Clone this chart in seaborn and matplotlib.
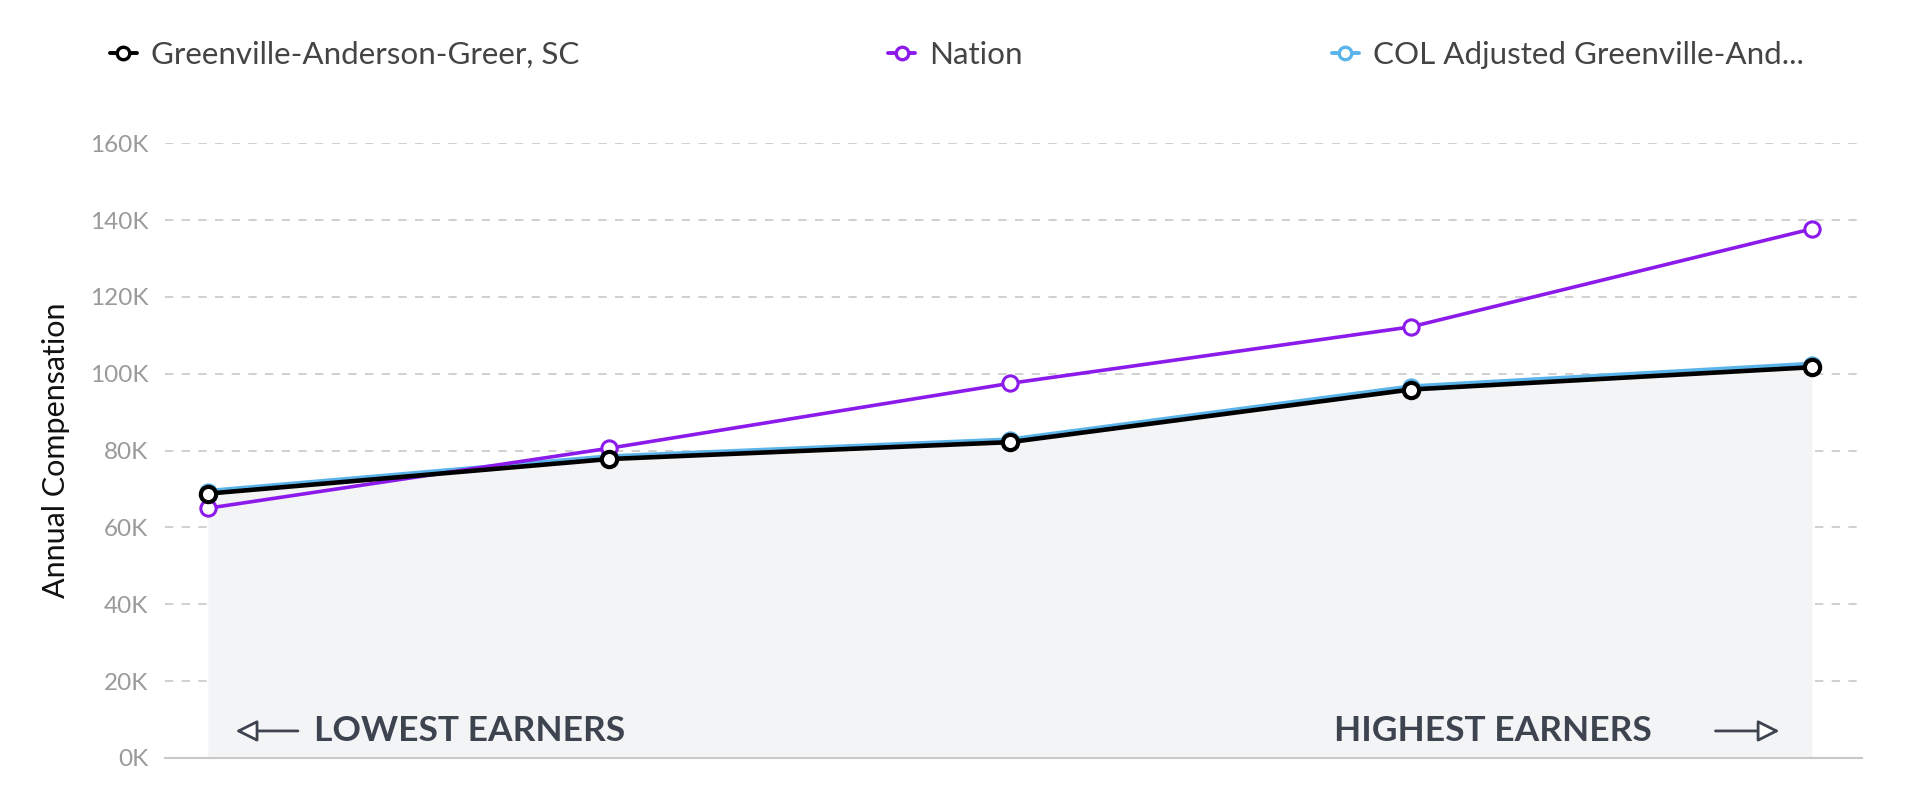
import matplotlib
matplotlib.use("Agg")
import matplotlib.pyplot as plt
import pandas as pd
import seaborn as sns
from matplotlib.lines import Line2D

# earners from lowest to highest (5 points on the x axis)
earner_levels = ["p10", "p25", "p50", "p75", "p90"]
greenville = [68800, 77800, 82200, 95900, 101700]
nation = [65000, 80600, 97500, 112200, 137700]
col_adjusted = [69300, 78300, 82700, 96500, 102400]

series_names = ["Greenville-Anderson-Greer, SC", "Nation", "COL Adjusted Greenville-And..."]
series_colors = ["#000000", "#8c1aeb", "#5ab4ea"]

y_ticks = [0, 20000, 40000, 60000, 80000, 100000, 120000, 140000, 160000]
y_tick_labels = ["0K", "20K", "40K", "60K", "80K", "100K", "120K", "140K", "160K"]

df = pd.DataFrame({
    "level": earner_levels,
    "pos": range(len(earner_levels)),
    "greenville": greenville,
    "nation": nation,
    "col": col_adjusted,
})

sns.set_theme(style="white")
plt.rcParams["font.family"] = ["Lato", "DejaVu Sans"]

fig = plt.figure(figsize=(19.11, 8), dpi=100)
ax = fig.add_axes([0.0863, 0.0525, 0.8881, 0.7685])

# shaded area under local line
ax.fill_between(df["pos"], 0, df["greenville"], color="#f3f4f6", lw=0, zorder=1)

# dashed grid
for t in y_ticks[1:]:
    ax.axhline(t, color="#c8c8c8", lw=1.2, ls=(0, (5, 5)), zorder=0.5)

sns.lineplot(data=df, x="pos", y="col", ax=ax, color=series_colors[2], lw=4.2,
             marker="o", markersize=11, markerfacecolor="white",
             markeredgecolor=series_colors[2], markeredgewidth=2.2, zorder=3)
sns.lineplot(data=df, x="pos", y="nation", ax=ax, color=series_colors[1], lw=2.6,
             marker="o", markersize=11, markerfacecolor="white",
             markeredgecolor=series_colors[1], markeredgewidth=2.2, zorder=4)
sns.lineplot(data=df, x="pos", y="greenville", ax=ax, color=series_colors[0], lw=3.3,
             marker="o", markersize=11, markerfacecolor="white",
             markeredgecolor=series_colors[0], markeredgewidth=3, zorder=5)

ax.set_xlim(-0.107, 4.125)
ax.set_ylim(0, 160000)
ax.set_xticks([])
ax.set_yticks(y_ticks)
ax.set_yticklabels(y_tick_labels, color="#9a9a9a", fontsize=17.5)
ax.tick_params(axis="y", length=0, pad=12)
ax.set_xlabel("")
ax.set_ylabel("Annual Compensation", fontsize=22, color="#111111", labelpad=14)

for side in ["top", "right", "left"]:
    ax.spines[side].set_visible(False)
ax.spines["bottom"].set_color("#c8c8c8")
ax.spines["bottom"].set_linewidth(1.5)

# earner labels
txt_color = "#3d4450"
ax.text(0.0878, 0.044, "LOWEST EARNERS", transform=ax.transAxes, fontsize=25.5,
        fontweight="bold", color=txt_color, ha="left", va="center", zorder=6)
ax.text(0.876, 0.044, "HIGHEST EARNERS", transform=ax.transAxes, fontsize=25.5,
        fontweight="bold", color=txt_color, ha="right", va="center", zorder=6)
arrow = dict(arrowstyle="-|>,head_length=1.1,head_width=0.55", fc="white",
             ec=txt_color, lw=2)
ax.annotate("", xy=(0.040, 0.044), xytext=(0.080, 0.044), xycoords="axes fraction",
            arrowprops=arrow, zorder=6)
ax.annotate("", xy=(0.953, 0.044), xytext=(0.912, 0.044), xycoords="axes fraction",
            arrowprops=arrow, zorder=6)

handles = [Line2D([0], [0], color=c, lw=2.8, marker="o", markersize=9,
                  markerfacecolor="white", markeredgecolor=c, markeredgewidth=2.4)
           for c in series_colors]
fig.legend(handles, series_names, loc="center left", bbox_to_anchor=(0.0576, 0.931),
           ncol=3, frameon=False, fontsize=22.6, handlelength=0.85, handletextpad=0.45,
           columnspacing=9.85, borderpad=0, borderaxespad=0, labelcolor="#444444")

fig.savefig("out.png", dpi=100)
